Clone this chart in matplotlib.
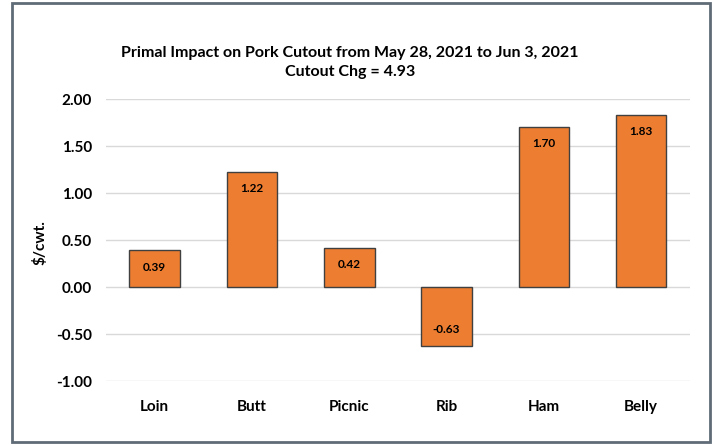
import matplotlib.pyplot as plt
from matplotlib.patches import Rectangle

# --- data ---
primals = ['Loin', 'Butt', 'Picnic', 'Rib', 'Ham', 'Belly']
impact = [0.39, 1.22, 0.42, -0.63, 1.70, 1.83]
yticks = [-1.0, -0.5, 0.0, 0.5, 1.0, 1.5, 2.0]

plt.rcParams['font.family'] = ['Lato', 'DejaVu Sans']

fig = plt.figure(figsize=(7.14, 4.45), dpi=100)
ax = fig.add_axes([0.1485, 0.1438, 0.8175, 0.6337])

x = range(len(primals))
bars = ax.bar(x, impact, width=0.52, color='#ED7D31', edgecolor='#404040',
              linewidth=1.0, zorder=3)

for b, v in zip(bars, impact):
    cx = b.get_x() + b.get_width() / 2
    off = -12 if v >= 0 else 12
    ax.annotate(f'{v:.2f}', (cx, v), xytext=(0, off), textcoords='offset points',
                ha='center', va='center', fontsize=8.5, fontweight='bold', zorder=4)

ax.set_ylim(-1.0, 2.0)
ax.set_xlim(-0.5, len(primals) - 0.5)
ax.set_yticks(yticks)
ax.set_yticklabels([f'{t:.2f}' for t in yticks], fontsize=11, fontweight='bold')
ax.set_xticks(list(x))
ax.set_xticklabels(primals, fontsize=11, fontweight='bold')
ax.tick_params(length=0, pad=10)
ax.tick_params(axis='x', pad=14)
ax.grid(axis='y', color='#d9d9d9', linewidth=1.0, zorder=0)
for s in ax.spines.values():
    s.set_visible(False)

ax.set_ylabel('$/cwt.', fontsize=11, fontweight='bold')
ax.yaxis.set_label_coords(-0.1, 0.49)

fig.text(0.49, 0.86, 'Primal Impact on Pork Cutout from May 28, 2021 to Jun 3, 2021\nCutout Chg = 4.93',
         ha='center', va='center', fontsize=11.5, fontweight='bold', linespacing=1.45)

# outer border
fig.patches.append(Rectangle((12 / 714, 3 / 445), 698 / 714, 439 / 445, transform=fig.transFigure,
                             fill=False, edgecolor='#5f6b77', linewidth=2))

fig.savefig('out.png', dpi=100)
